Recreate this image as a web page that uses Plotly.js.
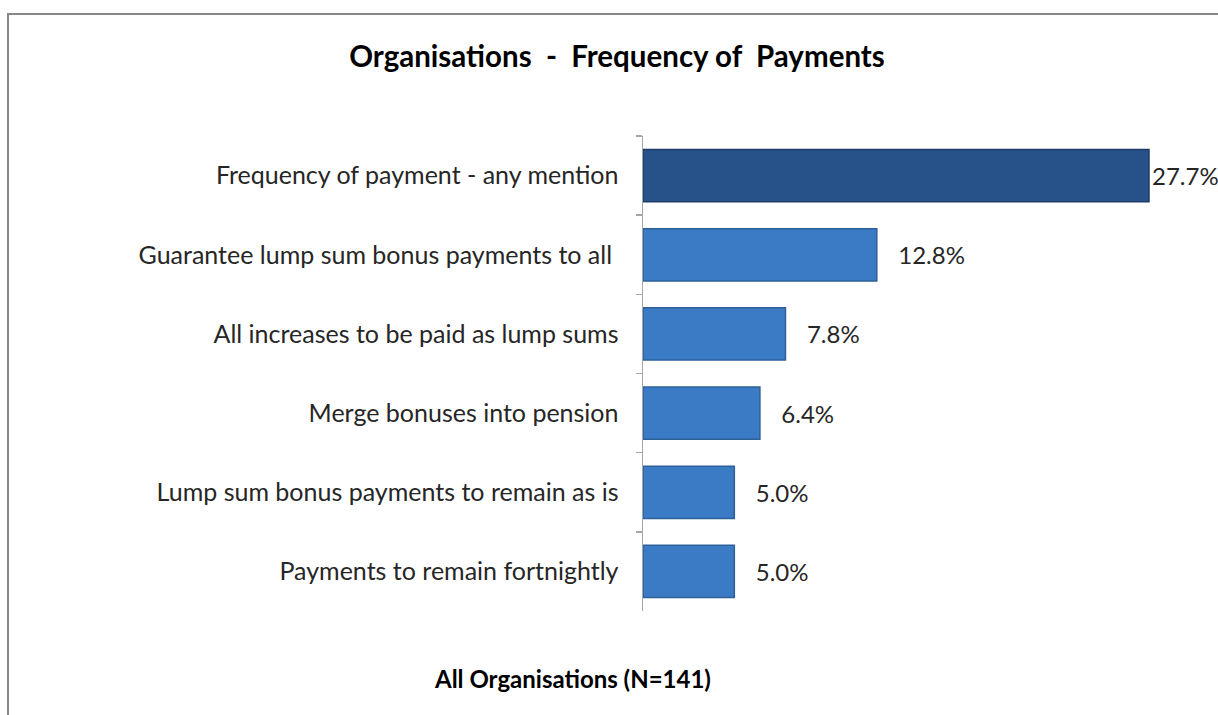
<!DOCTYPE html>
<html>
<head>
<meta charset="utf-8">
<script src="https://cdn.plot.ly/plotly-3.0.1.min.js"></script>
<style>
html,body{margin:0;padding:0;background:#fff;}
#wrap{position:relative;width:1218px;height:715px;overflow:hidden;}
#chart{position:absolute;left:0;top:0;width:1218px;height:715px;}
#frame{position:absolute;left:7px;top:13px;width:1230px;height:720px;border-left:2px solid #878787;border-top:2px solid #878787;pointer-events:none;}
</style>
</head>
<body>
<div id="wrap"><div id="chart"></div><div id="frame"></div></div>
<script>
const categories = [
  "Frequency of payment - any mention",
  "Guarantee lump sum bonus payments to all ",
  "All increases to be paid as lump sums",
  "Merge bonuses into pension",
  "Lump sum bonus payments to remain as is",
  "Payments to remain fortnightly"
];
const values = [27.7, 12.8, 7.8, 6.4, 5.0, 5.0];
const barColors = ["#275189", "#3b7bc6", "#3b7bc6", "#3b7bc6", "#3b7bc6", "#3b7bc6"];
const lineColors = ["#1c3d68", "#2d6099", "#2d6099", "#2d6099", "#2d6099", "#2d6099"];
const labelTemplates = values.map((v, i) => i === 0 ? "%{x:.1f}%" : "&nbsp;&nbsp;&nbsp;%{x:.1f}%");

const FONT = "Lato, 'Open Sans', sans-serif";

const trace = {
  type: "bar",
  orientation: "h",
  y: categories,
  x: values,
  width: 0.66,
  marker: { color: barColors, line: { color: lineColors, width: 1.5 } },
  texttemplate: labelTemplates,
  textposition: "outside",
  cliponaxis: false,
  textfont: { family: FONT, size: 24, color: "#262626" },
  hoverinfo: "skip"
};

const layout = {
  width: 1218,
  height: 715,
  margin: { l: 643, r: 27, t: 136, b: 104 },
  paper_bgcolor: "#ffffff",
  plot_bgcolor: "#ffffff",
  showlegend: false,
  font: { family: FONT, color: "#262626" },
  title: {
    text: "<b>Organisations  -  Frequency of  Payments</b>",
    font: { family: FONT, size: 29.5, color: "#000000" },
    x: 617 / 1218, xref: "container", xanchor: "center",
    y: 1 - 57 / 715, yref: "container", yanchor: "middle"
  },
  xaxis: {
    range: [0, 30],
    visible: false,
    showgrid: false,
    zeroline: false,
    fixedrange: true
  },
  yaxis: {
    type: "category",
    autorange: "reversed",
    showline: true,
    linecolor: "#a6a6a6",
    linewidth: 1.5,
    ticks: "outside",
    tickson: "boundaries",
    ticklen: 6,
    tickcolor: "#a6a6a6",
    tickwidth: 1.5,
    ticklabelstandoff: 18,
    showgrid: false,
    zeroline: false,
    tickfont: { family: FONT, size: 25, color: "#262626" },
    fixedrange: true
  },
  annotations: [{
    text: "<b>All Organisations (N=141)</b>",
    xref: "paper", yref: "paper",
    x: (572 - 643) / 548, y: (611 - 678) / 475,
    xanchor: "center", yanchor: "middle",
    showarrow: false,
    font: { family: FONT, size: 24, color: "#000000" }
  }]
};

Plotly.newPlot("chart", [trace], layout, { displayModeBar: false, staticPlot: true });
</script>
</body>
</html>
